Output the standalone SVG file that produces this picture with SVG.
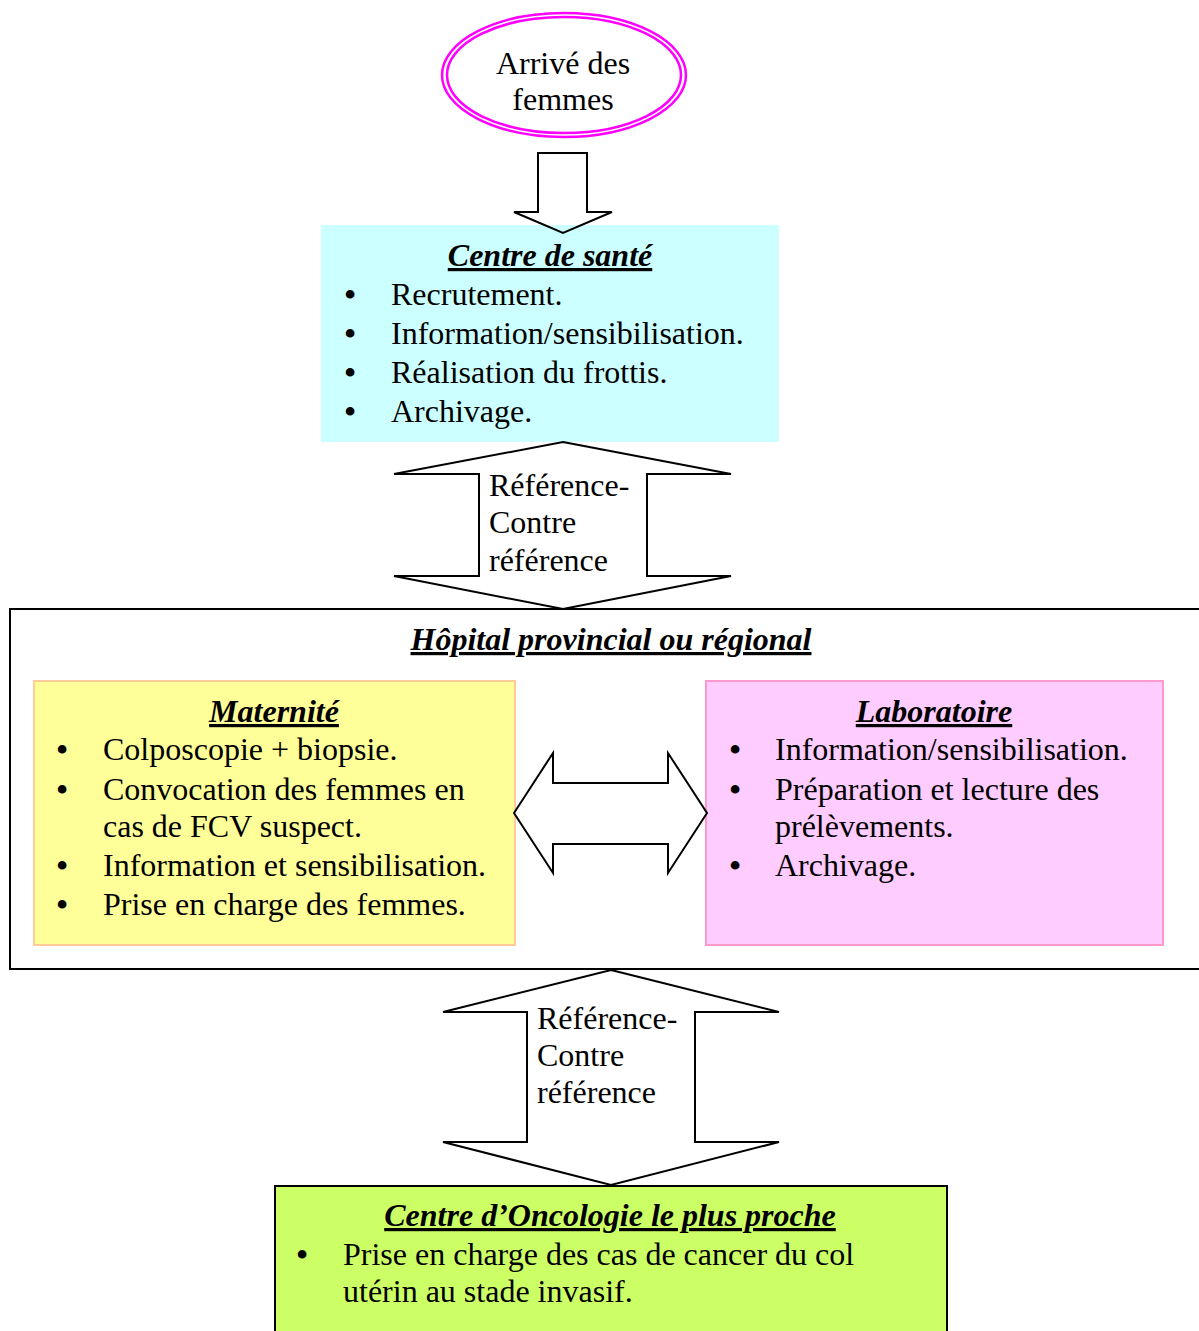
<svg xmlns="http://www.w3.org/2000/svg" width="1199" height="1331" viewBox="0 0 1199 1331">
<style>
text{font-family:"Liberation Serif","Times New Roman",serif;font-size:32px;fill:#000}
.t{font-weight:bold;font-style:italic;text-decoration:underline;text-anchor:middle}
.c{text-anchor:middle}
.b{text-anchor:middle;font-weight:bold}
.arr{fill:#fff;stroke:#000;stroke-width:2;stroke-linejoin:miter}
</style>
<rect width="1199" height="1331" fill="#fff"/>
<g id="start">
<ellipse cx="564" cy="75" rx="122" ry="62" fill="#fff" stroke="#ff00ff" stroke-width="2.5"/>
<ellipse cx="564" cy="75" rx="117" ry="58" fill="none" stroke="#ff00ff" stroke-width="2.5"/>
<text x="563" y="74" class="c">Arrivé des</text>
<text x="563" y="110" class="c">femmes</text>
</g>
<g id="connectors">
<polygon points="538,153 587,153 587,212 612,212 563,233 514,212 538,212" fill="#fff"/>
</g>
<g id="centre-sante">
<rect x="321" y="225" width="458" height="217" fill="#ccffff"/>
<text x="550" y="266" class="t">Centre de santé</text>
<text x="350" y="305" class="b">•</text><text x="391" y="305">Recrutement.</text>
<text x="350" y="344" class="b">•</text><text x="391" y="344">Information/sensibilisation.</text>
<text x="350" y="383" class="b">•</text><text x="391" y="383">Réalisation du frottis.</text>
<text x="350" y="422" class="b">•</text><text x="391" y="422">Archivage.</text>
</g>
<g id="connectors-a">
<polygon points="538,153 587,153 587,212 612,212 563,233 514,212 538,212" fill="none" stroke="#000" stroke-width="2"/>
</g>
<g id="hopital">
<rect x="10" y="609" width="1195" height="360" fill="#fff" stroke="#000" stroke-width="2"/>
<text x="611" y="650" class="t">Hôpital provincial ou régional</text>
</g>
<g id="connectors2">
<polygon class="arr" points="563,442 731,474 647,474 647,576 731,576 563,609 394,576 479,576 479,474 394,474"/>
<text x="489" y="496">Référence-</text>
<text x="489" y="533">Contre</text>
<text x="489" y="571">référence</text>
</g>
<g id="maternite">
<rect x="34" y="681" width="481" height="264" fill="#ffff99" stroke="#ffcc99" stroke-width="2"/>
<text x="274" y="722" class="t">Maternité</text>
<text x="62" y="760" class="b">•</text><text x="103" y="760">Colposcopie + biopsie.</text>
<text x="62" y="800" class="b">•</text><text x="103" y="800">Convocation des femmes en</text>
<text x="103" y="837">cas de FCV suspect.</text>
<text x="62" y="876" class="b">•</text><text x="103" y="876">Information et sensibilisation.</text>
<text x="62" y="915" class="b">•</text><text x="103" y="915">Prise en charge des femmes.</text>
</g>
<g id="laboratoire">
<rect x="706" y="681" width="457" height="264" fill="#ffccff" stroke="#ff99cc" stroke-width="2"/>
<text x="934" y="722" class="t">Laboratoire</text>
<text x="735" y="760" class="b">•</text><text x="775" y="760">Information/sensibilisation.</text>
<text x="735" y="800" class="b">•</text><text x="775" y="800">Préparation et lecture des</text>
<text x="775" y="837">prélèvements.</text>
<text x="735" y="876" class="b">•</text><text x="775" y="876">Archivage.</text>
</g>
<g id="connectors3">
<polygon class="arr" points="514,813 553,753 553,783 668,783 668,753 707,813 668,873 668,844 553,844 553,873"/>
<polygon class="arr" points="611,970 779,1012 695,1012 695,1142 779,1142 611,1185 443,1142 527,1142 527,1012 443,1012"/>
<text x="537" y="1029">Référence-</text>
<text x="537" y="1066">Contre</text>
<text x="537" y="1103">référence</text>
</g>
<g id="oncologie">
<rect x="275" y="1186" width="672" height="150" fill="#ccff66" stroke="#000" stroke-width="2"/>
<text x="610" y="1226" class="t">Centre d’Oncologie le plus proche</text>
<text x="302" y="1265" class="b">•</text><text x="343" y="1265">Prise en charge des cas de cancer du col</text>
<text x="343" y="1302">utérin au stade invasif.</text>
</g>
</svg>
